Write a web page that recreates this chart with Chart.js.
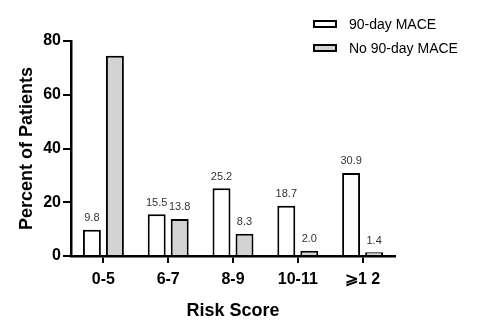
<!DOCTYPE html>
<html>
<head>
<meta charset="utf-8">
<script src="https://cdn.jsdelivr.net/npm/chart.js@4.4.0/dist/chart.umd.min.js"></script>
<style>
  html, body { margin: 0; padding: 0; background: #fff; }
  #wrap { width: 480px; height: 335px; }
</style>
</head>
<body>
<div id="wrap"><canvas id="chart" width="480" height="335"></canvas></div>
<script>
const categories = ['0-5', '6-7', '8-9', '10-11', '⩾1 2'];
const maceValues = [9.8, 15.5, 25.2, 18.7, 30.9];
const noMaceValues = [74.5, 13.8, 8.3, 2.0, 1.4];
const seriesNames = ['90-day MACE', 'No 90-day MACE'];
const yTicks = [0, 20, 40, 60, 80];
// the tall 0-5 bar carries no number in the original
const maceLabelShown = [true, true, true, true, true];
const noMaceLabelShown = [false, true, true, true, true];

const FONT = '"Liberation Sans", Arial, sans-serif';

// value labels above each bar
const valueLabels = {
  id: 'valueLabels',
  afterDatasetsDraw(chart) {
    const ctx = chart.ctx;
    ctx.save();
    ctx.font = `11px ${FONT}`;
    ctx.fillStyle = '#333';
    ctx.textAlign = 'center';
    ctx.textBaseline = 'bottom';
    chart.data.datasets.forEach((ds, i) => {
      chart.getDatasetMeta(i).data.forEach((bar, j) => {
        if (!ds.labelShown[j]) return;
        ctx.fillText(ds.data[j].toFixed(1), bar.x, bar.y - 6);
      });
    });
    ctx.restore();
  }
};

// legend in the top right corner, stacked
const cornerLegend = {
  id: 'cornerLegend',
  afterDraw(chart) {
    const ctx = chart.ctx;
    ctx.save();
    chart.data.datasets.forEach((ds, i) => {
      const y = 24 + i * 24;
      ctx.fillStyle = ds.backgroundColor;
      ctx.fillRect(314, y - 3, 22, 6);
      ctx.strokeStyle = '#000';
      ctx.lineWidth = 2;
      ctx.strokeRect(314, y - 3, 22, 6);
      ctx.fillStyle = '#000';
      ctx.font = `14px ${FONT}`;
      ctx.textBaseline = 'middle';
      ctx.textAlign = 'left';
      ctx.fillText(ds.label, 349, y + 1);
    });
    ctx.restore();
  }
};

new Chart(document.getElementById('chart'), {
  type: 'bar',
  data: {
    labels: categories,
    datasets: [
      {
        label: seriesNames[0],
        data: maceValues,
        labelShown: maceLabelShown,
        backgroundColor: '#ffffff',
        borderColor: '#000000',
        borderWidth: 2
      },
      {
        label: seriesNames[1],
        data: noMaceValues,
        labelShown: noMaceLabelShown,
        backgroundColor: '#d3d3d3',
        borderColor: '#000000',
        borderWidth: 2
      }
    ]
  },
  options: {
    responsive: false,
    animation: false,
    categoryPercentage: 0.71,
    barPercentage: 0.78,
    layout: { padding: { top: 41, right: 85, left: 0, bottom: 13 } },
    plugins: {
      legend: { display: false },
      tooltip: { enabled: false }
    },
    scales: {
      x: {
        afterFit: scale => { scale.height = 66; },
        border: { color: '#000', width: 2.5 },
        grid: { display: true, drawOnChartArea: false, offset: false, tickLength: 7, color: '#000', lineWidth: 2 },
        ticks: { color: '#000', font: { family: FONT, size: 16, weight: 'bold' }, padding: 7 },
        title: { display: true, text: 'Risk Score', color: '#000', font: { family: FONT, size: 18, weight: 'bold' }, padding: { top: 0, bottom: 0 } }
      },
      y: {
        min: 0,
        max: 80,
        afterFit: scale => { scale.width = 71; },
        afterBuildTicks: scale => { scale.ticks = yTicks.map(v => ({ value: v })); },
        border: { color: '#000', width: 2.5 },
        grid: { display: true, drawOnChartArea: false, tickLength: 8, color: '#000', lineWidth: 2 },
        ticks: { color: '#000', font: { family: FONT, size: 16, weight: 'bold' }, padding: 2 },
        title: { display: true, text: 'Percent of Patients', color: '#000', font: { family: FONT, size: 18, weight: 'bold' }, padding: { top: 16, bottom: 0 } }
      }
    }
  },
  plugins: [valueLabels, cornerLegend]
});
</script>
</body>
</html>
